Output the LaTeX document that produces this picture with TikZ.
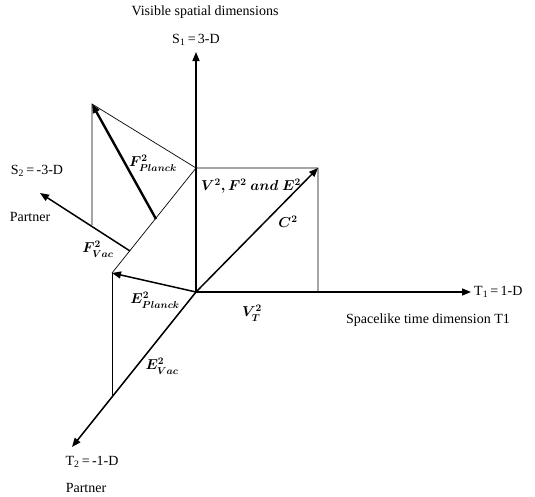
\documentclass[tikz,border=0pt]{standalone}
\usepackage{amsmath,amssymb}
\usepackage{fontspec}
\setmainfont{Liberation Serif}
\usetikzlibrary{arrows.meta,positioning}

\begin{document}
\begin{tikzpicture}[x=1pt,y=-1pt,node distance=2pt and 2pt,
 lbl/.style={font=\fontsize{14}{16}\selectfont,inner sep=1pt},
 qty/.style={font=\fontsize{14.5}{17}\selectfont,inner sep=1pt},
 axis/.style={-{Triangle[length=9pt,width=7pt]},line width=1.5pt},
 vec/.style={-{Triangle[length=9pt,width=7pt]},line width=1.5pt},
 guide/.style={line width=0.7pt}]
\useasboundingbox (0,0) rectangle (535,496);
\coordinate (O) at (196,292);
\coordinate (S1) at (196,52); \coordinate (T1) at (471,292);
\coordinate (T2) at (72,447); \coordinate (S2) at (40,193);
\coordinate (C) at (318,168); \coordinate (Q) at (196,168);
\coordinate (Ep) at (112,273); \coordinate (Ev) at (112,395);
\coordinate (Fv) at (130,251); \coordinate (Fs) at (156,219);
\coordinate (Fp) at (92,104); \coordinate (Fb) at (92,225);
% guide lines
\draw[guide] (Fb) -- (Fp) -- (Q) -- (C) -- (318,292);
\draw[guide] (Ep) -- (Q); \draw[guide] (Ep) -- (Ev);
% axes
\draw[axis] (O) -- (S1); \draw[axis] (O) -- (T1);
\draw[axis] (O) -- (T2); \draw[axis] (Fv) -- (S2);
% vectors
\draw[vec] (O) -- (C); \draw[vec] (O) -- (Ep);
\draw[vec,line width=2.4pt] (Fs) -- (Fp);
% labels
\node[lbl] (vis) at (205,12) {Visible spatial dimensions};
\node[lbl,above=5pt of S1] (s1) {S\textsubscript{1}\,=\,3-D};
\node[lbl] (s2) at (37,171) {S\textsubscript{2}\,=\,-3-D};
\node[lbl] (p1) at (30,217) {Partner};
\node[lbl,right=2pt of T1] (t1) {T\textsubscript{1}\,=\,1-D};
\node[lbl] (spc) at (428,320) {Spacelike time dimension T1};
\node[lbl] (t2) at (92,462) {T\textsubscript{2}\,=\,-1-D};
\node[lbl] (p2) at (86,488) {Partner};
\node[qty] (fpl) at (153,163) {$\boldsymbol{F^2_{Planck}}$};
\node[qty] (fva) at (98,249) {$\boldsymbol{F^2_{Vac}}$};
\node[qty,anchor=west] (vfe) at (200,186) {$\boldsymbol{V^2, F^2\ and\ E^2}$};
\node[qty] (c2) at (288,222) {$\boldsymbol{C^2}$};
\node[qty] (vt) at (252,313) {$\boldsymbol{V^2_T}$};
\node[qty] (epl) at (155,300) {$\boldsymbol{E^2_{Planck}}$};
\node[qty] (eva) at (162,366) {$\boldsymbol{E^2_{Vac}}$};
\end{tikzpicture}
\end{document}
